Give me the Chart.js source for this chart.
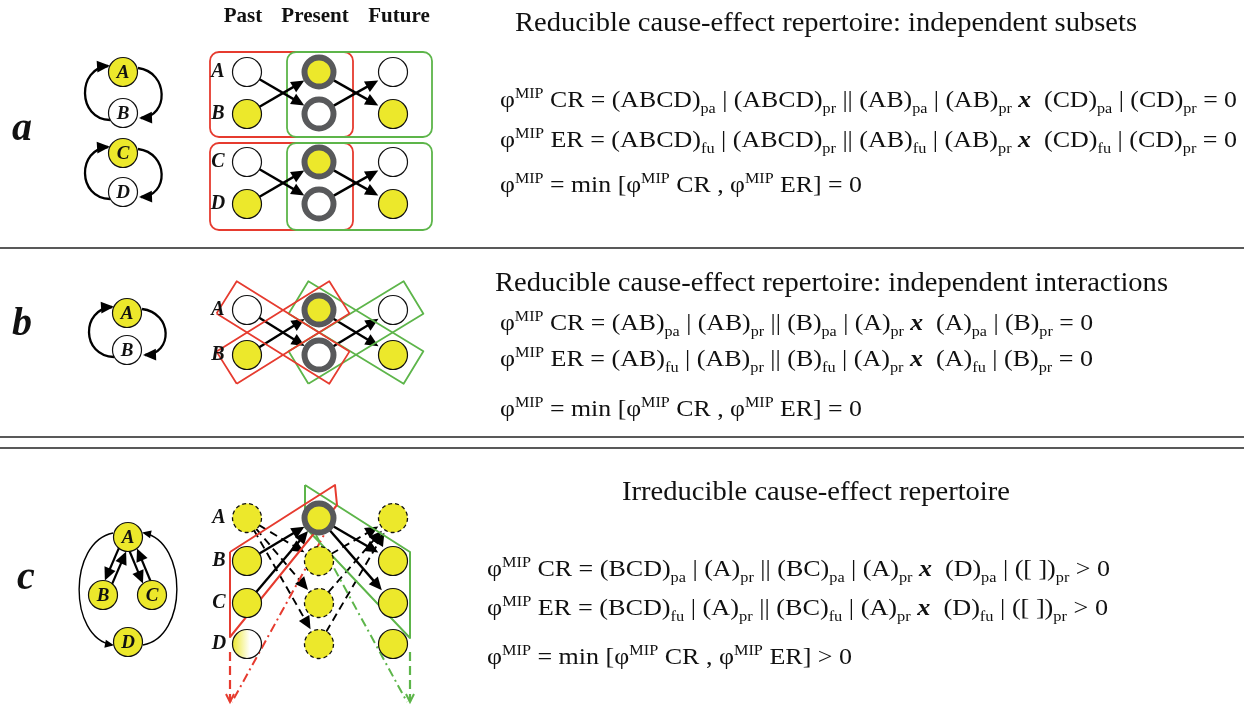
<!DOCTYPE html>
<html>
<head>
<meta charset="utf-8">
<script src="https://cdn.jsdelivr.net/npm/chart.js@4.4.1/dist/chart.umd.min.js"></script>
<style>
  html, body { margin: 0; padding: 0; background: #fff; overflow: hidden; }
  canvas { display: block; }
</style>
</head>
<body>
<canvas id="diagram" width="1244" height="705"></canvas>
<script>
// ---- data (page pixel units) ----
const columns = ['Past', 'Present', 'Future'];
const colX = [247, 319, 393];

const rowNamesA = ['A', 'B', 'C', 'D'];
const rowYA = [72, 114, 162, 204];
const rowNamesB = ['A', 'B'];
const rowYB = [310, 355];
const rowNamesC = ['A', 'B', 'C', 'D'];
const rowYC = [518, 561, 603, 644];

// node states per column: w white, y yellow, yr/wr with grey ring, yd dashed, g faded
const statesA = [['w', 'y', 'w', 'y'], ['yr', 'wr', 'yr', 'wr'], ['w', 'y', 'w', 'y']];
const statesB = [['w', 'y'], ['yr', 'wr'], ['w', 'y']];
const statesC = [['yd', 'y', 'y', 'g'], ['yr', 'yd', 'yd', 'yd'], ['yd', 'y', 'y', 'y']];

// edges: [fromCol, fromRow, toCol, toRow]
const edgesA = [[0, 0, 1, 1], [0, 1, 1, 0], [1, 0, 2, 1], [1, 1, 2, 0],
                [0, 2, 1, 3], [0, 3, 1, 2], [1, 2, 2, 3], [1, 3, 2, 2]];
const edgesB = [[0, 0, 1, 1], [0, 1, 1, 0], [1, 0, 2, 1], [1, 1, 2, 0]];
const edgesCSolid = [[0, 1, 1, 0], [0, 2, 1, 0], [1, 0, 2, 1], [1, 0, 2, 2]];
const edgesCDashed = [[0, 0, 1, 1], [0, 0, 1, 2], [0, 0, 1, 3], [1, 1, 2, 0], [1, 2, 2, 0], [1, 3, 2, 0]];

// small network graphs
const smallNamesA = ['A', 'B', 'C', 'D'];
const smallXA = [123, 123, 123, 123];
const smallYA = [72, 113, 153, 192];
const smallStatesA = ['y', 'w', 'y', 'w'];
const smallNamesB = ['A', 'B'];
const smallXB = [127, 127];
const smallYB = [313, 350];
const smallStatesB = ['y', 'w'];
const smallNamesC = ['A', 'B', 'C', 'D'];
const smallXC = [128, 103, 152, 128];
const smallYC = [537, 595, 595, 642];
const smallStatesC = ['y', 'y', 'y', 'y'];

// partition boxes
const redBoxesA = [[210, 52, 353, 137], [210, 143, 353, 230]];
const greenBoxesA = [[287, 52, 432, 137], [287, 143, 432, 230]];
const redPairsB = [[0, 0, 1, 1], [0, 1, 1, 0]];
const greenPairsB = [[1, 0, 2, 1], [1, 1, 2, 0]];
const redPolyC = [[230, 552], [335, 485], [337, 505], [230, 637], [230, 552]];
const greenPolyC = [[305, 485], [410, 552], [410, 638], [305, 527], [305, 485]];
const redDashDotC = [[330, 524], [232, 702]];
const greenDashDotC = [[316, 535], [407, 702]];
const redDashC = [[230, 652], [230, 702]];
const greenDashC = [[410, 652], [410, 702]];

// texts
const panelLetters = ['a', 'b', 'c'];
const titles = [
  'Reducible cause-effect repertoire: independent subsets',
  'Reducible cause-effect repertoire: independent interactions',
  'Irreducible cause-effect repertoire'
];
const equationsA = [
  'φ^{MIP} CR = (ABCD)_{pa} | (ABCD)_{pr} || (AB)_{pa} | (AB)_{pr} *x*  (CD)_{pa} | (CD)_{pr} = 0',
  'φ^{MIP} ER = (ABCD)_{fu} | (ABCD)_{pr} || (AB)_{fu} | (AB)_{pr} *x*  (CD)_{fu} | (CD)_{pr} = 0',
  'φ^{MIP} = min [φ^{MIP} CR , φ^{MIP} ER] = 0'
];
const equationsB = [
  'φ^{MIP} CR = (AB)_{pa} | (AB)_{pr} || (B)_{pa} | (A)_{pr} *x*  (A)_{pa} | (B)_{pr} = 0',
  'φ^{MIP} ER = (AB)_{fu} | (AB)_{pr} || (B)_{fu} | (A)_{pr} *x*  (A)_{fu} | (B)_{pr} = 0',
  'φ^{MIP} = min [φ^{MIP} CR , φ^{MIP} ER] = 0'
];
const equationsC = [
  'φ^{MIP} CR = (BCD)_{pa} | (A)_{pr} || (BC)_{pa} | (A)_{pr} *x*  (D)_{pa} | ([ ])_{pr} > 0',
  'φ^{MIP} ER = (BCD)_{fu} | (A)_{pr} || (BC)_{fu} | (A)_{pr} *x*  (D)_{fu} | ([ ])_{pr} > 0',
  'φ^{MIP} = min [φ^{MIP} CR , φ^{MIP} ER] > 0'
];

// ---- layout / style ----
const YELLOW = '#ece82b';
const RED = '#e63b2f';
const GREEN = '#5db54a';
const RING = '#58595b';
const SERIF = '"Liberation Serif", "Times New Roman", serif';

const textLayout = {
  titles: [[515, 31, 622, 27], [495, 291, 673, 27], [622, 500, 388, 27]],
  eqA: [[500, 107, 737], [500, 147, 737], [500, 192, 362]],
  eqB: [[500, 330, 593], [500, 366, 593], [500, 416, 362]],
  eqC: [[487, 576, 623], [487, 615, 621], [487, 664, 365]],
  letters: [[12, 140], [12, 335], [17, 589]],
  headers: [243, 315, 399]
};

function gridNodes(rowY, states) {
  const out = [];
  states.forEach((col, c) => col.forEach((s, r) => out.push({ x: colX[c], y: rowY[r], s: s })));
  return out;
}
function smallNodes(xs, ys, states) {
  return xs.map((x, i) => ({ x: x, y: ys[i], s: states[i] }));
}
const nodes = [
  ...gridNodes(rowYA, statesA), ...gridNodes(rowYB, statesB), ...gridNodes(rowYC, statesC),
  ...smallNodes(smallXA, smallYA, smallStatesA), ...smallNodes(smallXB, smallYB, smallStatesB),
  ...smallNodes(smallXC, smallYC, smallStatesC)
];

function rotBox(p) {
  const a = { x: colX[p[0]], y: rowYB[p[1]] };
  const b = { x: colX[p[2]], y: rowYB[p[3]] };
  const len = Math.hypot(b.x - a.x, b.y - a.y);
  const dx = (b.x - a.x) / len, dy = (b.y - a.y) / len;
  const nx = -dy, ny = dx, ext = 24, hw = 19;
  const s = { x: a.x - dx * ext, y: a.y - dy * ext };
  const e = { x: b.x + dx * ext, y: b.y + dy * ext };
  const pts = [
    { x: s.x + nx * hw, y: s.y + ny * hw }, { x: e.x + nx * hw, y: e.y + ny * hw },
    { x: e.x - nx * hw, y: e.y - ny * hw }, { x: s.x - nx * hw, y: s.y - ny * hw }
  ];
  pts.push(pts[0]);
  return pts;
}
const toPts = arr => arr.map(p => ({ x: p[0], y: p[1] }));

function lineSet(data, color, width, dash) {
  return {
    data: data, showLine: true, borderColor: color, borderWidth: width,
    borderDash: dash || [], pointRadius: 0, fill: false, order: 2,
    borderJoinStyle: 'round', tension: 0
  };
}

const nodeStyle = {
  w: { bg: '#ffffff', bc: '#111', bw: 1.2 },
  y: { bg: YELLOW, bc: '#111', bw: 1.2 },
  yr: { bg: YELLOW, bc: RING, bw: 6 },
  wr: { bg: '#ffffff', bc: RING, bw: 6 },
  yd: { bg: YELLOW, bc: YELLOW, bw: 0 },
  g: { bg: YELLOW, bc: '#111', bw: 1.2 }
};

const datasets = [
  {
    label: 'nodes',
    data: nodes,
    order: 0,
    pointRadius: 14.5,
    pointHoverRadius: 14.5,
    pointBackgroundColor: function (c) {
      const raw = c.raw;
      if (raw && raw.s === 'g') {
        let x = c.chart.scales.x ? c.chart.scales.x.getPixelForValue(raw.x) : NaN;
        if (!isFinite(x)) x = raw.x;
        const g = c.chart.ctx.createLinearGradient(x - 15, 0, x + 3, 0);
        g.addColorStop(0, YELLOW);
        g.addColorStop(1, '#ffffff');
        return g;
      }
      return raw ? nodeStyle[raw.s].bg : '#fff';
    },
    pointBorderColor: c => c.raw ? nodeStyle[c.raw.s].bc : '#111',
    pointBorderWidth: c => c.raw ? nodeStyle[c.raw.s].bw : 1
  },
  ...redPairsB.map(p => lineSet(rotBox(p), RED, 1.8)),
  ...greenPairsB.map(p => lineSet(rotBox(p), GREEN, 1.8)),
  lineSet(toPts(redPolyC), RED, 2),
  lineSet(toPts(greenPolyC), GREEN, 2),
  lineSet(toPts(redDashDotC), RED, 2, [9, 4, 2, 4]),
  lineSet(toPts(greenDashDotC), GREEN, 2, [9, 4, 2, 4]),
  lineSet(toPts(redDashC), RED, 2.2, [9, 5]),
  lineSet(toPts(greenDashC), GREEN, 2.2, [9, 5])
];

// ---- drawing helpers ----
function arrowHead(ctx, x, y, ang, len, half) {
  ctx.beginPath();
  ctx.moveTo(x, y);
  ctx.lineTo(x - Math.cos(ang) * len - Math.sin(ang) * half, y - Math.sin(ang) * len + Math.cos(ang) * half);
  ctx.lineTo(x - Math.cos(ang) * len + Math.sin(ang) * half, y - Math.sin(ang) * len - Math.cos(ang) * half);
  ctx.closePath();
  ctx.fill();
}
function arrow(ctx, x1, y1, x2, y2, width, dash, t1, t2) {
  const ang = Math.atan2(y2 - y1, x2 - x1);
  const sx = x1 + Math.cos(ang) * t1, sy = y1 + Math.sin(ang) * t1;
  const ex = x2 - Math.cos(ang) * t2, ey = y2 - Math.sin(ang) * t2;
  ctx.save();
  ctx.strokeStyle = '#000';
  ctx.fillStyle = '#000';
  ctx.lineWidth = width;
  ctx.setLineDash(dash);
  ctx.beginPath();
  ctx.moveTo(sx, sy);
  ctx.lineTo(ex - Math.cos(ang) * 8, ey - Math.sin(ang) * 8);
  ctx.stroke();
  ctx.setLineDash([]);
  arrowHead(ctx, ex, ey, ang, 13, 6);
  ctx.restore();
}
function curve(ctx, p, width, head) {
  ctx.save();
  ctx.strokeStyle = '#000';
  ctx.fillStyle = '#000';
  ctx.lineWidth = width;
  ctx.beginPath();
  ctx.moveTo(p[0], p[1]);
  ctx.bezierCurveTo(p[2], p[3], p[4], p[5], p[6], p[7]);
  ctx.stroke();
  const ang = Math.atan2(p[7] - p[5], p[6] - p[4]);
  arrowHead(ctx, p[6] + Math.cos(ang) * 2, p[7] + Math.sin(ang) * 2, ang, head, head * 0.45);
  ctx.restore();
}
function chevron(ctx, x, y, color) {
  ctx.save();
  ctx.strokeStyle = color;
  ctx.lineWidth = 2;
  ctx.beginPath();
  ctx.moveTo(x - 4, y - 8);
  ctx.lineTo(x, y);
  ctx.lineTo(x + 4, y - 8);
  ctx.stroke();
  ctx.restore();
}

const richRe = /\^\{([^}]*)\}|_\{([^}]*)\}|\*([^*]*)\*|([^^_*]+)/g;
function parseRich(str) {
  const out = [];
  let m;
  richRe.lastIndex = 0;
  while ((m = richRe.exec(str))) {
    if (m[1] !== undefined) out.push({ t: m[1], k: 'sup' });
    else if (m[2] !== undefined) out.push({ t: m[2], k: 'sub' });
    else if (m[3] !== undefined) out.push({ t: m[3], k: 'bi' });
    else out.push({ t: m[4], k: 'n' });
  }
  return out;
}
function segFont(k, size) {
  if (k === 'sup' || k === 'sub') return Math.round(size * 0.64) + 'px ' + SERIF;
  if (k === 'bi') return 'italic bold ' + size + 'px ' + SERIF;
  return size + 'px ' + SERIF;
}
function drawRich(ctx, str, x, y, width, size) {
  const segs = parseRich(str);
  let total = 0;
  segs.forEach(s => { ctx.font = segFont(s.k, size); s.w = ctx.measureText(s.t).width; total += s.w; });
  ctx.save();
  ctx.translate(x, y);
  ctx.scale(width / total, 1);
  ctx.fillStyle = '#111';
  ctx.textBaseline = 'alphabetic';
  let cx = 0;
  segs.forEach(s => {
    ctx.font = segFont(s.k, size);
    const dy = s.k === 'sup' ? -size * 0.36 : (s.k === 'sub' ? size * 0.24 : 0);
    ctx.fillText(s.t, cx, dy);
    cx += s.w;
  });
  ctx.restore();
}

const diagramPlugin = {
  id: 'diagram',
  beforeDatasetsDraw(chart) {
    const ctx = chart.ctx;
    const X = v => chart.scales.x.getPixelForValue(v);
    const Y = v => chart.scales.y.getPixelForValue(v);

    // separators
    ctx.save();
    ctx.strokeStyle = '#222';
    ctx.lineWidth = 1.3;
    [248, 437, 448].forEach(y => {
      ctx.beginPath(); ctx.moveTo(X(0), Y(y)); ctx.lineTo(X(1244), Y(y)); ctx.stroke();
    });
    ctx.restore();

    // rounded boxes of panel a
    ctx.save();
    ctx.lineWidth = 1.8;
    [[redBoxesA, RED], [greenBoxesA, GREEN]].forEach(([boxes, col]) => {
      ctx.strokeStyle = col;
      boxes.forEach(b => {
        ctx.beginPath();
        ctx.roundRect(X(b[0]), Y(b[1]), X(b[2]) - X(b[0]), Y(b[3]) - Y(b[1]), 9);
        ctx.stroke();
      });
    });
    ctx.restore();

    // grid arrows
    const drawEdges = (edges, rowY, dash, width) => edges.forEach(e => {
      arrow(ctx, X(colX[e[0]]), Y(rowY[e[1]]), X(colX[e[2]]), Y(rowY[e[3]]), width, dash, 14, 17);
    });
    drawEdges(edgesA, rowYA, [], 2.4);
    drawEdges(edgesB, rowYB, [], 2.4);
    drawEdges(edgesCSolid, rowYC, [], 2.4);
    drawEdges(edgesCDashed, rowYC, [8, 5], 1.9);

    // loops of the small graphs
    const loop = (x, y1, y2) => {
      curve(ctx, [X(x - 13), Y(y2 + 7), X(x - 46), Y(y2 + 6), X(x - 46), Y(y1 - 4), X(x - 15), Y(y1 - 6)], 2.3, 13);
      curve(ctx, [X(x + 15), Y(y1 - 4), X(x + 46), Y(y1), X(x + 46), Y(y2 + 4), X(x + 18), Y(y2 + 5)], 2.3, 13);
    };
    loop(smallXA[0], smallYA[0], smallYA[1]);
    loop(smallXA[2], smallYA[2], smallYA[3]);
    loop(smallXB[0], smallYB[0], smallYB[1]);

    // panel c graph: outer arcs and double arrows
    const a = { x: smallXC[0], y: smallYC[0] }, d = { x: smallXC[3], y: smallYC[3] };
    curve(ctx, [X(a.x - 15), Y(a.y - 4), X(a.x - 60), Y(a.y + 5), X(d.x - 60), Y(d.y - 5), X(d.x - 16), Y(d.y + 3)], 1.4, 9);
    curve(ctx, [X(d.x + 15), Y(d.y + 3), X(d.x + 60), Y(d.y - 5), X(a.x + 60), Y(a.y + 5), X(a.x + 16), Y(a.y - 4)], 1.4, 9);
    [1, 2].forEach(i => {
      const bx = smallXC[i], by = smallYC[i];
      const ang = Math.atan2(by - a.y, bx - a.x);
      const ox = -Math.sin(ang) * 4, oy = Math.cos(ang) * 4;
      arrow(ctx, X(a.x + ox), Y(a.y + oy), X(bx + ox), Y(by + oy), 2.2, [], 13, 14);
      arrow(ctx, X(bx - ox), Y(by - oy), X(a.x - ox), Y(a.y - oy), 2.2, [], 13, 14);
    });
  },
  afterDatasetsDraw(chart) {
    const ctx = chart.ctx;
    const X = v => chart.scales.x.getPixelForValue(v);
    const Y = v => chart.scales.y.getPixelForValue(v);

    // dashed outlines
    ctx.save();
    ctx.strokeStyle = '#111';
    ctx.lineWidth = 1.3;
    ctx.setLineDash([4, 3]);
    nodes.filter(n => n.s === 'yd').forEach(n => {
      ctx.beginPath(); ctx.arc(X(n.x), Y(n.y), 14.5, 0, Math.PI * 2); ctx.stroke();
    });
    ctx.restore();

    // open arrow tips at the bottom of panel c
    chevron(ctx, X(redDashC[1][0]), Y(redDashC[1][1]), RED);
    chevron(ctx, X(greenDashC[1][0]), Y(greenDashC[1][1]), GREEN);

    ctx.save();
    ctx.fillStyle = '#111';
    ctx.textBaseline = 'middle';
    ctx.textAlign = 'center';

    // column headers
    ctx.font = 'bold 21px ' + SERIF;
    columns.forEach((c, i) => ctx.fillText(c, X(textLayout.headers[i]), Y(17)));

    // row labels
    ctx.font = 'italic bold 20px ' + SERIF;
    rowNamesA.forEach((n, i) => ctx.fillText(n, X(218), Y(rowYA[i])));
    rowNamesB.forEach((n, i) => ctx.fillText(n, X(218), Y(rowYB[i])));
    rowNamesC.forEach((n, i) => ctx.fillText(n, X(219), Y(rowYC[i])));

    // small graph labels
    ctx.font = 'italic bold 19px ' + SERIF;
    smallNamesA.forEach((n, i) => ctx.fillText(n, X(smallXA[i]), Y(smallYA[i] + 1)));
    smallNamesB.forEach((n, i) => ctx.fillText(n, X(smallXB[i]), Y(smallYB[i] + 1)));
    smallNamesC.forEach((n, i) => ctx.fillText(n, X(smallXC[i]), Y(smallYC[i] + 1)));

    // panel letters
    ctx.textAlign = 'left';
    ctx.textBaseline = 'alphabetic';
    ctx.font = 'italic bold 40px ' + SERIF;
    panelLetters.forEach((l, i) => ctx.fillText(l, X(textLayout.letters[i][0]), Y(textLayout.letters[i][1])));
    ctx.restore();

    // titles and equations
    titles.forEach((t, i) => {
      const L = textLayout.titles[i];
      drawRich(ctx, t, X(L[0]), Y(L[1]), L[2], L[3]);
    });
    [[equationsA, textLayout.eqA], [equationsB, textLayout.eqB], [equationsC, textLayout.eqC]].forEach(([eqs, lay]) => {
      eqs.forEach((e, i) => drawRich(ctx, e, X(lay[i][0]), Y(lay[i][1]), lay[i][2], 24));
    });
  }
};

new Chart(document.getElementById('diagram'), {
  type: 'scatter',
  data: { datasets: datasets },
  options: {
    responsive: false,
    devicePixelRatio: 1,
    animation: false,
    events: [],
    layout: { padding: 0, autoPadding: false },
    plugins: { legend: { display: false }, tooltip: { enabled: false } },
    scales: {
      x: { type: 'linear', min: 0, max: 1244, display: false },
      y: { type: 'linear', min: 0, max: 705, reverse: true, display: false }
    }
  },
  plugins: [diagramPlugin]
});
</script>
</body>
</html>
